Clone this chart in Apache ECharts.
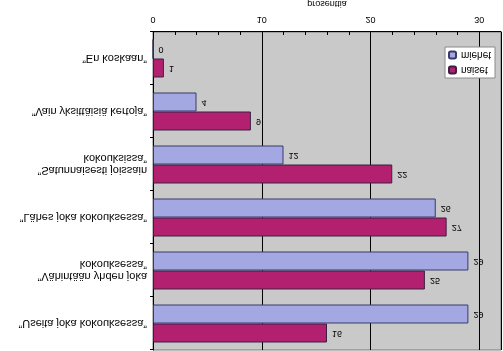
<!DOCTYPE html>
<html>
<head>
<meta charset="utf-8">
<script src="https://cdn.jsdelivr.net/npm/echarts@6/dist/echarts.min.js"></script>
<style>
  html, body { margin: 0; padding: 0; background: #fff; }
  /* the reference is mirrored top to bottom */
  #chart { width: 503px; height: 351px; transform: scaleY(-1); }
</style>
</head>
<body>
<div id="chart"></div>
<script>
  // categories from bottom to top (before flipping)
  var categories = [
    '\u201DEn koskaan\u201D',
    '\u201DVain yksittäisiä kertoja\u201D',
    '\u201DSatunnaisesti joissain\nkokouksissa\u201D',
    '\u201DLähes joka kokouksessa\u201D',
    '\u201DVähintään yhden joka\nkokouksessa\u201D',
    '\u201DUseita joka kokouksessa\u201D'
  ];
  var miehet = [0, 4, 12, 26, 29, 29];
  var naiset = [1, 9, 22, 27, 25, 16];

  var chartDom = document.getElementById('chart');
  var chart = echarts.init(chartDom);

  var labelStyle = {
    show: true,
    position: 'right',
    distance: 5,
    fontSize: 9,
    color: '#000',
    fontFamily: 'Liberation Sans'
  };

  var option = {
    animation: false,
    textStyle: { fontFamily: 'Liberation Sans' },
    grid: {
      left: 153,
      right: 2,
      top: 1,
      bottom: 32,
      outerBoundsMode: 'none',
      show: true,
      backgroundColor: '#c9c9c9',
      borderColor: '#7a7a7a',
      borderWidth: 1
    },
    legend: {
      orient: 'vertical',
      left: 445,
      top: 273,
      data: ['naiset', 'miehet'],
      backgroundColor: '#fff',
      borderColor: '#8a8a8a',
      borderWidth: 1,
      padding: [3, 4, 3, 3],
      itemGap: 5,
      itemWidth: 7,
      itemHeight: 7,
      textStyle: { fontSize: 10, color: '#000' }
    },
    xAxis: {
      type: 'value',
      min: 0,
      max: 32,
      interval: 10,
      name: 'prosenttia',
      nameLocation: 'middle',
      nameGap: 24,
      nameTextStyle: { fontSize: 9, color: '#000' },
      axisLine: { show: true, lineStyle: { color: '#000' } },
      axisTick: { show: true, inside: true, length: 3, lineStyle: { color: '#000' } },
      minorTick: { show: true, splitNumber: 5, length: 3, lineStyle: { color: '#000' } },
      axisLabel: {
        fontSize: 9,
        color: '#000',
        margin: 8,
        formatter: function (v) { return v % 10 === 0 ? String(v) : ''; }
      },
      splitLine: { show: true, lineStyle: { color: '#000', width: 1 } }
    },
    yAxis: {
      type: 'category',
      data: categories,
      axisLine: { show: true, lineStyle: { color: '#000' } },
      axisTick: { show: true, length: 3, lineStyle: { color: '#000' } },
      axisLabel: {
        fontSize: 11,
        color: '#000',
        margin: 6,
        lineHeight: 12,
        align: 'right'
      }
    },
    series: [
      {
        name: 'naiset',
        type: 'bar',
        data: naiset,
        barWidth: 19,
        barGap: '0%',
        itemStyle: { color: '#b3206f', borderColor: '#3a2040', borderWidth: 1 },
        label: labelStyle
      },
      {
        name: 'miehet',
        type: 'bar',
        data: miehet,
        barWidth: 19,
        barGap: '0%',
        itemStyle: { color: '#a3a8e2', borderColor: '#3a3a6a', borderWidth: 1 },
        label: labelStyle
      }
    ]
  };

  chart.setOption(option);
</script>
</body>
</html>
